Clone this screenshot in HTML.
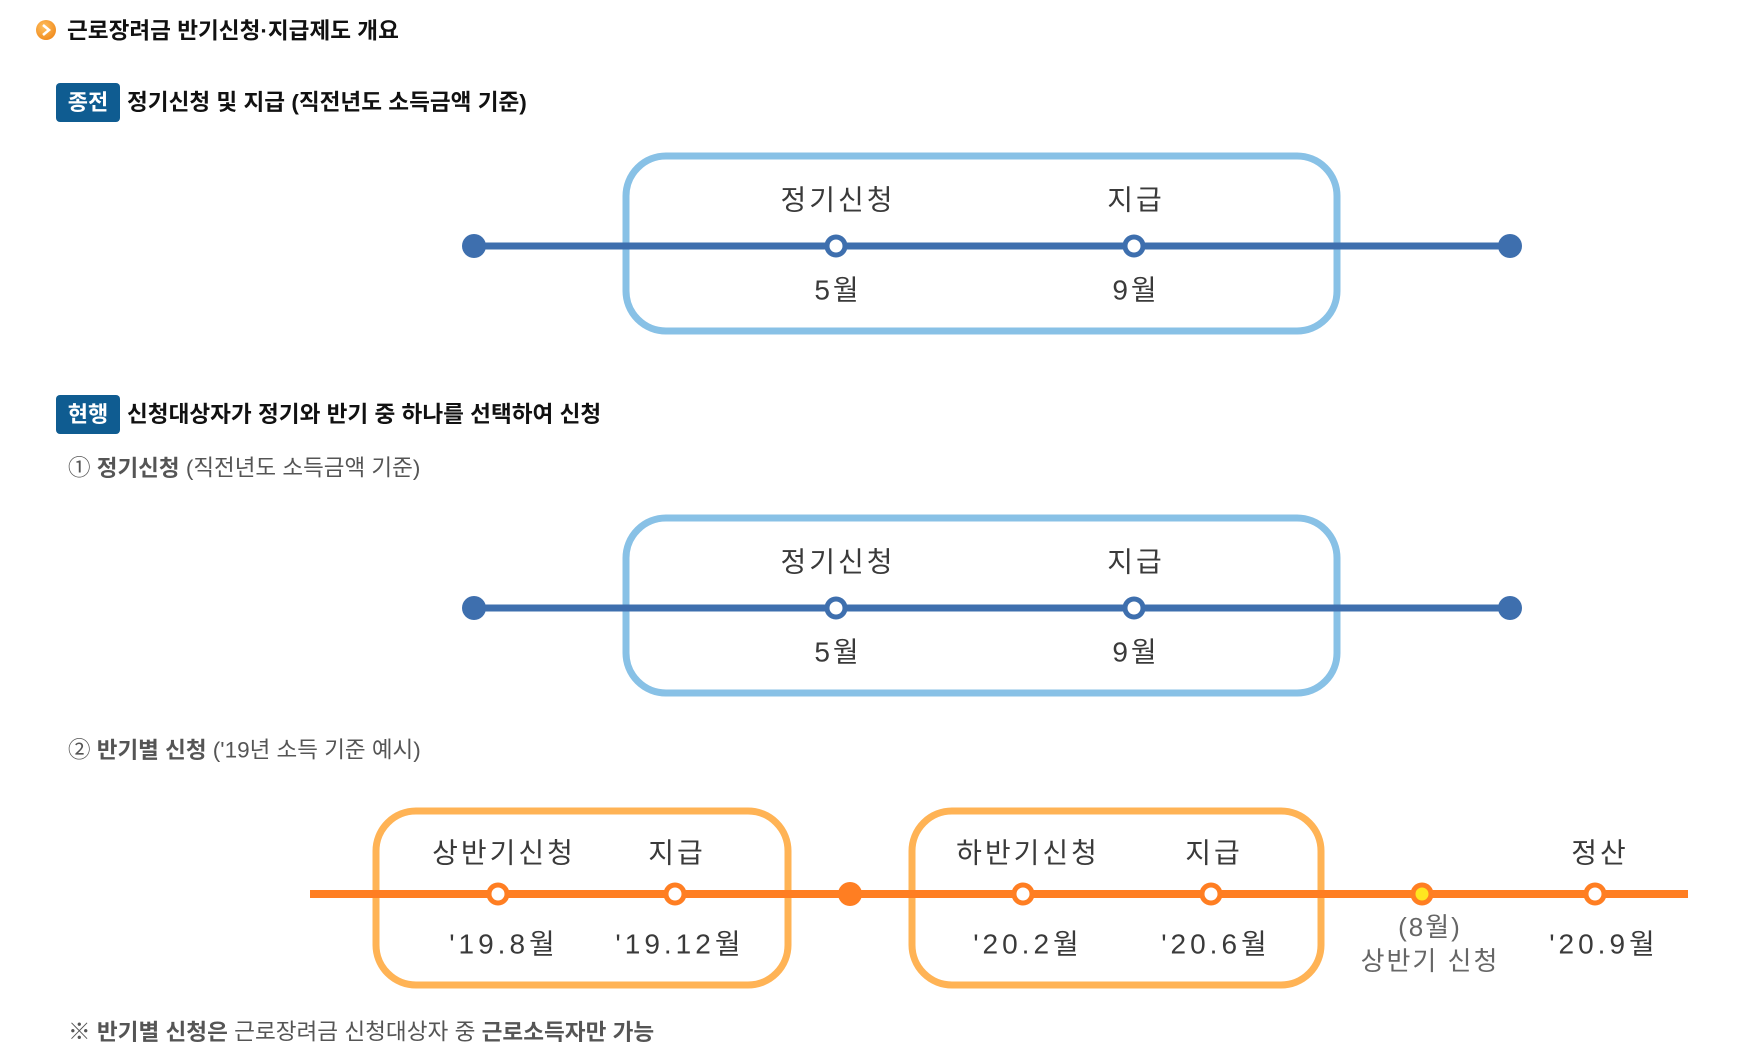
<!DOCTYPE html>
<html><head><meta charset="utf-8"><style>
html,body{margin:0;padding:0;background:#fff;}
svg{display:block;}
text{font-family:"Liberation Sans","Noto Sans CJK KR",sans-serif;}
</style></head><body>
<svg width="1746" height="1056" viewBox="0 0 1746 1056" xmlns="http://www.w3.org/2000/svg">
<defs>
<radialGradient id="og" cx="0.4" cy="0.35" r="0.7"><stop offset="0" stop-color="#ffc060"/><stop offset="1" stop-color="#f08a1c"/></radialGradient>
</defs>
<circle cx="46" cy="30" r="10" fill="url(#og)"/>
<path d="M43 25 L49 30 L43 35" stroke="#fff" stroke-width="2.6" fill="none"/>
<text x="67" y="31" font-size="22.6" font-weight="bold" fill="#111" dominant-baseline="central">근로장려금 반기신청·지급제도 개요</text>

<rect x="56" y="83" width="64" height="39" rx="4" fill="#0f5c91"/>
<text x="88" y="102.5" font-size="22" font-weight="bold" fill="#fff" text-anchor="middle" dominant-baseline="central">종전</text>
<text x="127" y="102.5" font-size="22.6" font-weight="bold" fill="#111" dominant-baseline="central">정기신청 및 지급 (직전년도 소득금액 기준)</text>

<rect x="626" y="156" width="711" height="175" rx="40" fill="none" stroke="#88c1e6" stroke-width="7"/>
<line x1="474" y1="246" x2="1510" y2="246" stroke="#3e6fae" stroke-width="7"/>
<circle cx="474" cy="246" r="12" fill="#3e6fae"/>
<circle cx="1510" cy="246" r="12" fill="#3e6fae"/>
<circle cx="836" cy="246" r="9" fill="#fff" stroke="#3e6fae" stroke-width="5"/>
<circle cx="1134" cy="246" r="9" fill="#fff" stroke="#3e6fae" stroke-width="5"/>
<g font-size="28" letter-spacing="3" fill="#3a3a3a" text-anchor="middle" dominant-baseline="central">
<text x="838" y="200">정기신청</text><text x="1136" y="200">지급</text>
<text x="838" y="290">5월</text><text x="1136" y="290">9월</text>
</g>

<rect x="56" y="395" width="64" height="39" rx="4" fill="#0f5c91"/>
<text x="88" y="414.5" font-size="22" font-weight="bold" fill="#fff" text-anchor="middle" dominant-baseline="central">현행</text>
<text x="127" y="414.5" font-size="22.6" font-weight="bold" fill="#111" dominant-baseline="central">신청대상자가 정기와 반기 중 하나를 선택하여 신청</text>
<text x="68" y="468" font-size="22.5" fill="#555" dominant-baseline="central">① <tspan font-weight="bold">정기신청</tspan> (직전년도 소득금액 기준)</text>

<rect x="626" y="518" width="711" height="175" rx="40" fill="none" stroke="#88c1e6" stroke-width="7"/>
<line x1="474" y1="608" x2="1510" y2="608" stroke="#3e6fae" stroke-width="7"/>
<circle cx="474" cy="608" r="12" fill="#3e6fae"/>
<circle cx="1510" cy="608" r="12" fill="#3e6fae"/>
<circle cx="836" cy="608" r="9" fill="#fff" stroke="#3e6fae" stroke-width="5"/>
<circle cx="1134" cy="608" r="9" fill="#fff" stroke="#3e6fae" stroke-width="5"/>
<g font-size="28" letter-spacing="3" fill="#3a3a3a" text-anchor="middle" dominant-baseline="central">
<text x="838" y="562">정기신청</text><text x="1136" y="562">지급</text>
<text x="838" y="652">5월</text><text x="1136" y="652">9월</text>
</g>

<text x="68" y="750" font-size="22.5" fill="#555" dominant-baseline="central">② <tspan font-weight="bold">반기별 신청</tspan> ('19년 소득 기준 예시)</text>

<rect x="376" y="811" width="412" height="174" rx="40" fill="none" stroke="#ffb355" stroke-width="7"/>
<rect x="912" y="811" width="409" height="174" rx="40" fill="none" stroke="#ffb355" stroke-width="7"/>
<line x1="310" y1="894" x2="1688" y2="894" stroke="#ff7e22" stroke-width="8"/>
<g fill="#fff" stroke="#ff7e22" stroke-width="5">
<circle cx="498" cy="894" r="9"/><circle cx="675" cy="894" r="9"/>
<circle cx="1023" cy="894" r="9"/><circle cx="1211" cy="894" r="9"/>
<circle cx="1595" cy="894" r="9"/>
<circle cx="1422" cy="894" r="9" fill="#ffe620"/>
</g>
<circle cx="850" cy="894" r="12" fill="#ff7e22"/>
<g font-size="28" letter-spacing="3" fill="#3a3a3a" text-anchor="middle" dominant-baseline="central">
<text x="504" y="853">상반기신청</text><text x="677" y="853">지급</text>
<text x="1028" y="853">하반기신청</text><text x="1214" y="853">지급</text>
<text x="1600" y="853">정산</text>
</g>
<g font-size="28" letter-spacing="4" fill="#3a3a3a" text-anchor="middle" dominant-baseline="central">
<text x="504" y="944">'19.8월</text><text x="680" y="944">'19.12월</text>
<text x="1028" y="944">'20.2월</text><text x="1216" y="944">'20.6월</text>
<text x="1604" y="944">'20.9월</text>
</g>
<g font-size="26" letter-spacing="2" fill="#666" text-anchor="middle" dominant-baseline="central">
<text x="1430" y="927">(8월)</text><text x="1430" y="961">상반기 신청</text>
</g>

<text x="68" y="1032" font-size="22.6" fill="#555" dominant-baseline="central">※ <tspan font-weight="bold">반기별 신청은</tspan> 근로장려금 신청대상자 중 <tspan font-weight="bold">근로소득자만 가능</tspan></text>
</svg>
</body></html>
